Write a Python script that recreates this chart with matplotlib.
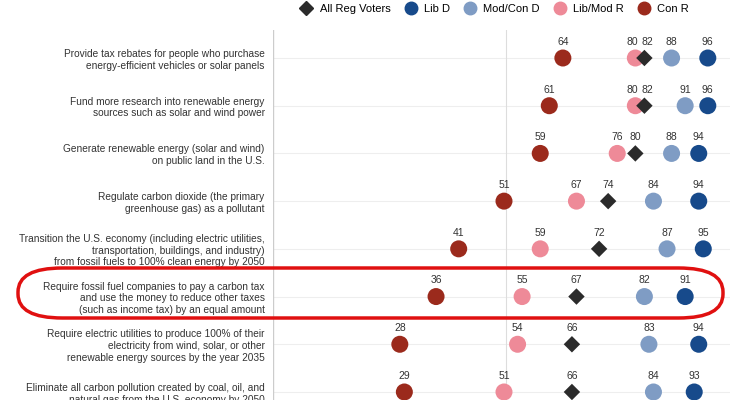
import matplotlib
matplotlib.use("Agg")
import matplotlib.pyplot as plt
from matplotlib.lines import Line2D
from matplotlib.patches import FancyBboxPatch
import numpy as np

plt.rcParams["font.family"] = ["Liberation Sans", "DejaVu Sans"]

policies = [
    "Provide tax rebates for people who purchase\nenergy-efficient vehicles or solar panels",
    "Fund more research into renewable energy\nsources such as solar and wind power",
    "Generate renewable energy (solar and wind)\non public land in the U.S.",
    "Regulate carbon dioxide (the primary\ngreenhouse gas) as a pollutant",
    "Transition the U.S. economy (including electric utilities,\ntransportation, buildings, and industry)\nfrom fossil fuels to 100% clean energy by 2050",
    "Require fossil fuel companies to pay a carbon tax\nand use the money to reduce other taxes\n(such as income tax) by an equal amount",
    "Require electric utilities to produce 100% of their\nelectricity from wind, solar, or other\nrenewable energy sources by the year 2035",
    "Eliminate all carbon pollution created by coal, oil, and\nnatural gas from the U.S. economy by 2050",
]
con_r = [64, 61, 59, 51, 41, 36, 28, 29]
libmod_r = [80, 80, 76, 67, 59, 55, 54, 51]
all_reg = [82, 82, 80, 74, 72, 67, 66, 66]
modcon_d = [88, 91, 88, 84, 87, 82, 83, 84]
lib_d = [96, 96, 94, 94, 95, 91, 94, 93]

series = [
    ("All Reg Voters", all_reg, "#2b2b2b", "D"),
    ("Lib D", lib_d, "#174a8b", "o"),
    ("Mod/Con D", modcon_d, "#7f9cc4", "o"),
    ("Lib/Mod R", libmod_r, "#ee8a98", "o"),
    ("Con R", con_r, "#9b2a1c", "o"),
]

fig = plt.figure(figsize=(7.4, 4.0), dpi=100)
ax = fig.add_axes([273 / 740, 0, 457 / 740, 370 / 400])
ax.set_xlim(0, 100.9)
ax.set_ylim(7.168, -0.587)
y = np.arange(len(policies))

for yi in y:
    ax.axhline(yi, color="#eeeeee", lw=0.8, zorder=0)
ax.axvline(0, color="#cccccc", lw=1, zorder=0)
ax.axvline(51.5, color="#dddddd", lw=0.8, zorder=0)

for k in [4, 3, 2, 1, 0]:
    name, vals, col, mk = series[k]
    ax.scatter(vals, y, s=150 if mk == "o" else 70, marker=mk, color=col,
               zorder=3 + (k == 0), edgecolor="none")
    for v, yi in zip(vals, y):
        # nudge labels apart where two values sit very close
        dx = 0
        if k == 3 and all_reg[yi] - v <= 2:
            dx = -2
        if k == 0 and v - libmod_r[yi] <= 2:
            dx = 2
        ax.annotate(str(v), (v, yi), xytext=(dx, 8), textcoords="offset points",
                    ha="center", va="bottom", fontsize=7.5, color="#333333")

ax.set_yticks(y)
ax.set_yticklabels(policies, fontsize=7.3, color="#333333", linespacing=1.2)
ax.tick_params(axis="y", length=0, pad=6)
ax.set_xticks([])
for s in ax.spines.values():
    s.set_visible(False)

handles = [Line2D([], [], marker=mk, linestyle="none", color=col,
                  markersize=9 if mk == "o" else 7, label=name)
           for name, vals, col, mk in series]
fig.legend(handles=handles, loc="upper center", bbox_to_anchor=(0.665, 1.015),
           ncol=5, frameon=False, fontsize=8, handletextpad=0.2,
           columnspacing=0.8)

fig.patches.append(FancyBboxPatch((18 / 740, 1 - 318 / 400), 705 / 740, 50 / 400,
                                  boxstyle="round,pad=0,rounding_size=0.06",
                                  transform=fig.transFigure, fill=False,
                                  edgecolor="#e01010", lw=2.5, zorder=10))

fig.savefig("out.png", dpi=100)
